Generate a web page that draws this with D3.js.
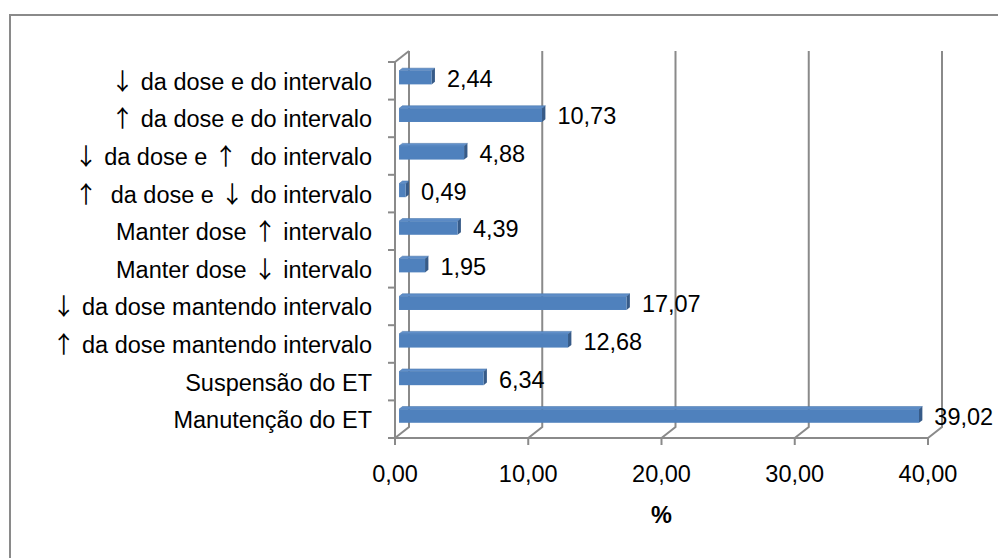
<!DOCTYPE html>
<html>
<head>
<meta charset="utf-8">
<script src="https://cdn.jsdelivr.net/npm/d3@7"></script>
<style>
  html, body { margin: 0; padding: 0; background: #fff; }
  svg { display: block; }
  text { font-family: "Liberation Sans", Arial, sans-serif; fill: #000; white-space: pre; }
  tspan.arrow { font-family: "Noto Sans CJK JP", "DejaVu Sans", sans-serif; font-variant-emoji: text; }
</style>
</head>
<body>
<svg id="chart" width="998" height="558"></svg>
<script>
// Categories listed from top to bottom
const categories = [
  "↓ da dose e do intervalo",
  "↑ da dose e do intervalo",
  "↓ da dose e ↑  do intervalo",
  "↑  da dose e ↓ do intervalo",
  "Manter dose ↑ intervalo",
  "Manter dose ↓ intervalo",
  "↓ da dose mantendo intervalo",
  "↑ da dose mantendo intervalo",
  "Suspensão do ET",
  "Manutenção do ET"
];
const values = [2.44, 10.73, 4.88, 0.49, 4.39, 1.95, 17.07, 12.68, 6.34, 39.02];
const xTicks = [0, 10, 20, 30, 40];
const xTitle = "%";

const fmt = v => v.toFixed(2).replace(".", ",");

const svg = d3.select("#chart");
const FONT = 23.5;
const GRID = "#8a8a8a";

// Outer chart frame
svg.append("rect")
  .attr("x", 10).attr("y", 15)
  .attr("width", 1000).attr("height", 560)
  .attr("fill", "none").attr("stroke", GRID).attr("stroke-width", 2);

// Front plane of the 3D plot area and the depth vector toward the back wall
const x = d3.scaleLinear().domain([0, 40]).range([395, 928]);
const y = d3.scaleBand().domain(categories).range([62, 438]).padding(0);
const DX = 14, DY = -11;

const g = svg.append("g");

// Back-wall gridlines with their floor diagonals
xTicks.forEach(t => {
  const xf = x(t);
  g.append("path")
    .attr("d", `M${xf},${y.range()[1]} L${xf + DX},${y.range()[1] + DY} L${xf + DX},${y.range()[0] + DY}`)
    .attr("fill", "none").attr("stroke", GRID).attr("stroke-width", 2);
});
// Left wall top edge
g.append("line")
  .attr("x1", x(0)).attr("y1", y.range()[0])
  .attr("x2", x(0) + DX).attr("y2", y.range()[0] + DY)
  .attr("stroke", GRID).attr("stroke-width", 2);

// Bars (front, top and side faces)
const f1 = 0.29, f2 = 0.53;
const barH = y.bandwidth() * 0.36;
const bars = g.selectAll("g.bar").data(categories.map((c, i) => ({c, v: values[i]})))
  .join("g").attr("class", "bar");

bars.each(function(d) {
  const sel = d3.select(this);
  const cy = y(d.c) + y.bandwidth() / 2;
  const L1 = x(0) + f1 * DX, R1 = x(d.v) + f1 * DX;
  const T1 = cy + f1 * DY - barH / 2, B1 = T1 + barH;
  const ddx = (f2 - f1) * DX, ddy = (f2 - f1) * DY;
  // top face
  sel.append("polygon")
    .attr("points", [[L1, T1], [R1, T1], [R1 + ddx, T1 + ddy], [L1 + ddx, T1 + ddy]].join(" "))
    .attr("fill", "#5f8fca").attr("stroke", "#4a76ab").attr("stroke-width", 0.6);
  // side face
  sel.append("polygon")
    .attr("points", [[R1, T1], [R1 + ddx, T1 + ddy], [R1 + ddx, B1 + ddy], [R1, B1]].join(" "))
    .attr("fill", "#375b88");
  // front face
  sel.append("rect")
    .attr("x", L1).attr("y", T1)
    .attr("width", Math.max(0, R1 - L1)).attr("height", barH)
    .attr("fill", "#4f81bd");
  // value label
  sel.append("text")
    .attr("x", x(d.v) + f2 * DX + 12)
    .attr("y", cy + 6)
    .attr("font-size", FONT)
    .text(fmt(d.v));
});

// Vertical category axis on the front plane
g.append("line")
  .attr("x1", x(0)).attr("y1", y.range()[0])
  .attr("x2", x(0)).attr("y2", y.range()[1])
  .attr("stroke", GRID).attr("stroke-width", 2);
const bounds = [y.range()[0]].concat(categories.map(c => y(c) + y.bandwidth()));
bounds.forEach(b => {
  g.append("line")
    .attr("x1", x(0) - 7).attr("x2", x(0))
    .attr("y1", b).attr("y2", b)
    .attr("stroke", GRID).attr("stroke-width", 2);
});
// Category labels; arrow glyphs are set in a font that draws them as plain text
g.selectAll("text.cat").data(categories).join("text")
  .attr("class", "cat")
  .attr("x", 372)
  .attr("y", d => y(d) + y.bandwidth() / 2 + 9)
  .attr("text-anchor", "end")
  .attr("font-size", FONT)
  .each(function(d) {
    const t = d3.select(this);
    d.split(/([↑↓])/).filter(s => s.length).forEach(s => {
      t.append("tspan")
        .attr("class", /[↑↓]/.test(s) ? "arrow" : null)
        .text(/[↑↓]/.test(s) ? s + "\uFE0E" : s);
    });
  });

// Horizontal value axis on the front plane
g.append("line")
  .attr("x1", x(0)).attr("x2", x(40))
  .attr("y1", y.range()[1]).attr("y2", y.range()[1])
  .attr("stroke", GRID).attr("stroke-width", 2);
xTicks.forEach(t => {
  g.append("line")
    .attr("x1", x(t)).attr("x2", x(t))
    .attr("y1", y.range()[1]).attr("y2", y.range()[1] + 7)
    .attr("stroke", GRID).attr("stroke-width", 2);
  g.append("text")
    .attr("x", x(t)).attr("y", 482)
    .attr("text-anchor", "middle")
    .attr("font-size", FONT)
    .text(fmt(t));
});
g.append("text")
  .attr("x", x(20)).attr("y", 523)
  .attr("text-anchor", "middle")
  .attr("font-size", FONT)
  .attr("font-weight", "bold")
  .text(xTitle);
</script>
</body>
</html>
